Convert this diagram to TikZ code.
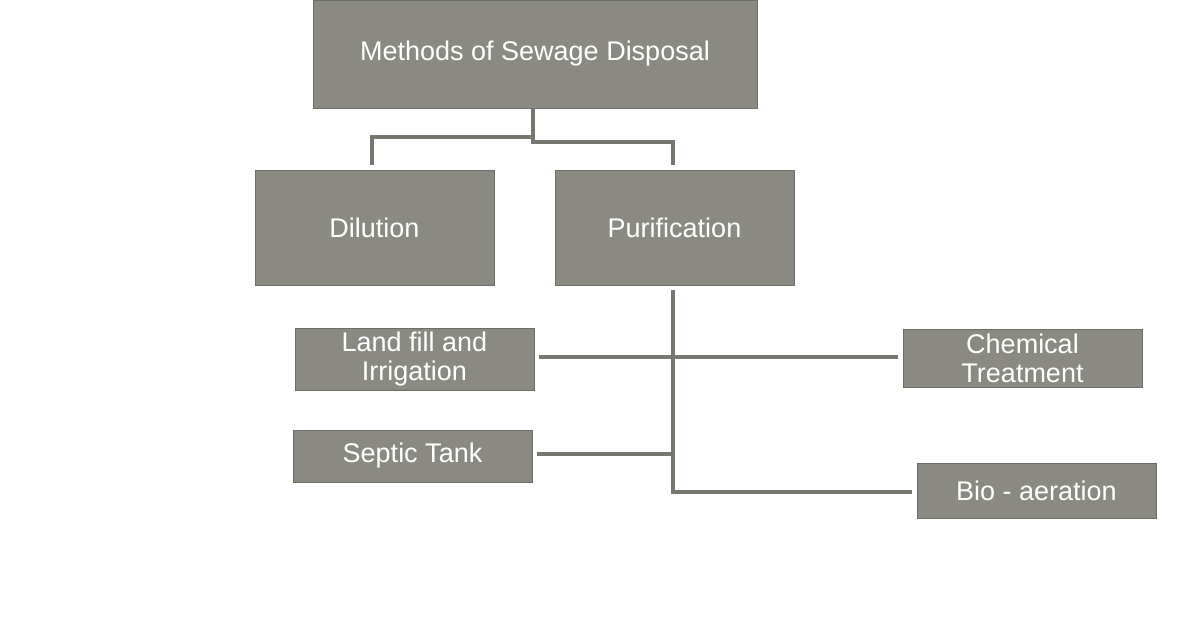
\documentclass[tikz,border=0pt]{standalone}
\usepackage{fontspec}
\setmainfont{Liberation Sans}
\begin{document}
\begin{tikzpicture}[x=1pt,y=-1pt,
  box/.style={fill=boxg,draw=boxg!80!black,line width=0.5pt,text=white,align=center,font=\fontsize{27}{29}\selectfont,inner sep=0pt},
  con/.style={draw=lineg,line width=3.5pt}]
\definecolor{boxg}{HTML}{8A8A83}
\definecolor{lineg}{HTML}{77776F}
\useasboundingbox (0,0) rectangle (1200,630);
\node[box,minimum width=444,minimum height=108] (top) at (535,54) {Methods of Sewage Disposal};
\node[box,minimum width=239,minimum height=115] (dil) at (374.5,227.5) {Dilution};
\node[box,minimum width=239,minimum height=115] (pur) at (674.5,227.5) {Purification};
\node[box,minimum width=239,minimum height=62] (land) at (414.5,359) {Land fill and\\Irrigation};
\node[box,minimum width=239,minimum height=58] (chem) at (1022.5,358) {Chemical\\Treatment};
\node[box,minimum width=239,minimum height=52] (sep) at (412.5,456) {Septic Tank};
\node[box,minimum width=239,minimum height=55] (bio) at (1036.5,490.5) {Bio - aeration};
\coordinate (j1) at (533,137);
\coordinate (j2) at (533,142);
\coordinate (v) at (673,290);
\draw[con] (top.south -| j1) -- (j1) -- (372,137) -- (372,165);
\draw[con] (j1) -- (j2) -- (673,142) -- (673,165);
\draw[con] (v) -- (673,492) -- (912,492);
\draw[con] (539,357) -- (898,357);
\draw[con] (537,454) -- (673,454);
\end{tikzpicture}
\end{document}
